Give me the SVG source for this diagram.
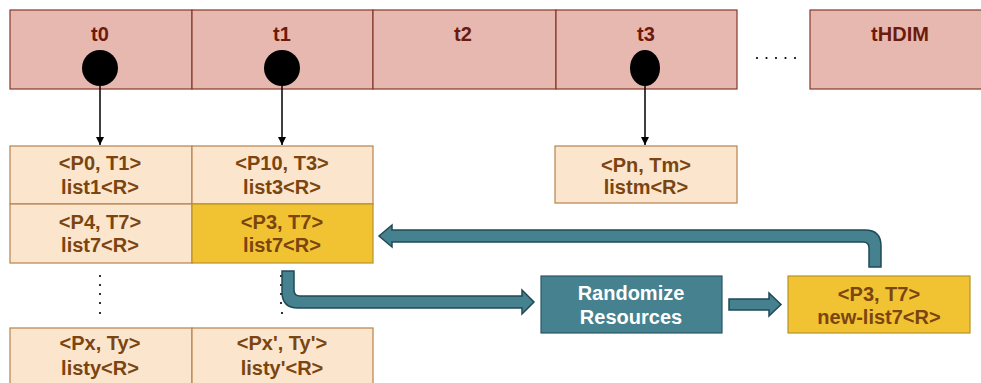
<svg xmlns="http://www.w3.org/2000/svg" width="981" height="383" viewBox="0 0 981 383">
  <defs>
    <style>
      .slot { fill: #e6b8af; stroke: #85372b; stroke-width: 1.2; }
      .slot-label { font-family: "Liberation Sans", Arial, sans-serif; font-weight: bold; font-size: 20px; fill: #6d1a0c; text-anchor: middle; }
      .cell { fill: #fce5cd; stroke: #b4834f; stroke-width: 1.2; }
      .cell-hot { fill: #f1c232; stroke: #b8912a; stroke-width: 1.2; }
      .cell-text { font-family: "Liberation Sans", Arial, sans-serif; font-weight: bold; font-size: 20px; fill: #7a4510; text-anchor: middle; }
      .proc { fill: #45818e; stroke: #2a5866; stroke-width: 1.2; }
      .proc-text { font-family: "Liberation Sans", Arial, sans-serif; font-weight: bold; font-size: 20px; fill: #ffffff; text-anchor: middle; }
      .pin { fill: #000000; }
      .ptr { stroke: #000000; stroke-width: 1.5; fill: none; }
      .flow { fill: #45818e; stroke: #1f4a57; stroke-width: 1.5; stroke-linejoin: miter; }
      .dot { fill: #000000; }
    </style>
    <marker id="ah" viewBox="0 0 10 10" refX="10" refY="5" markerWidth="8" markerHeight="8" markerUnits="userSpaceOnUse" orient="auto">
      <path d="M0,0 L10,5 L0,10 Z" fill="#000000"/>
    </marker>
  </defs>

  <!-- time slots -->
  <g id="slot-t0"><rect class="slot" x="10" y="10" width="182" height="79"/><text class="slot-label" x="100" y="41">t0</text><circle class="pin" cx="100" cy="68" r="18"/></g>
  <g id="slot-t1"><rect class="slot" x="192" y="10" width="181" height="79"/><text class="slot-label" x="282" y="41">t1</text><circle class="pin" cx="282" cy="68" r="18"/></g>
  <g id="slot-t2"><rect class="slot" x="373" y="10" width="183" height="79"/><text class="slot-label" x="463" y="41">t2</text></g>
  <g id="slot-t3"><rect class="slot" x="556" y="10" width="181" height="79"/><text class="slot-label" x="646" y="41">t3</text><ellipse class="pin" cx="645" cy="68" rx="15" ry="18"/></g>
  <g id="ellipsis-top">
    <circle class="dot" cx="757" cy="58" r="1.1"/><circle class="dot" cx="766.5" cy="58" r="1.1"/><circle class="dot" cx="776" cy="58" r="1.1"/><circle class="dot" cx="785.5" cy="58" r="1.1"/><circle class="dot" cx="795" cy="58" r="1.1"/>
  </g>
  <g id="slot-thdim"><rect class="slot" x="810" y="10" width="180" height="79"/><text class="slot-label" x="900" y="41">tHDIM</text></g>

  <!-- entry lists -->
  <g id="cell-p0"><rect class="cell" x="10" y="146" width="182" height="58"/><text class="cell-text" x="100" y="170">&lt;P0, T1&gt;</text><text class="cell-text" x="100" y="194">list1&lt;R&gt;</text></g>
  <g id="cell-p10"><rect class="cell" x="192" y="146" width="181" height="58"/><text class="cell-text" x="282" y="170">&lt;P10, T3&gt;</text><text class="cell-text" x="282" y="194">list3&lt;R&gt;</text></g>
  <g id="cell-p4"><rect class="cell" x="10" y="204" width="182" height="59"/><text class="cell-text" x="100" y="229">&lt;P4, T7&gt;</text><text class="cell-text" x="100" y="252">list7&lt;R&gt;</text></g>
  <g id="cell-p3"><rect class="cell-hot" x="192" y="204" width="181" height="59"/><text class="cell-text" x="282" y="229">&lt;P3, T7&gt;</text><text class="cell-text" x="282" y="252">list7&lt;R&gt;</text></g>
  <g id="cell-pn"><rect class="cell" x="555" y="146" width="182" height="57"/><text class="cell-text" x="646" y="172">&lt;Pn, Tm&gt;</text><text class="cell-text" x="646" y="194">listm&lt;R&gt;</text></g>
  <g id="ellipsis-col0">
    <circle class="dot" cx="100" cy="276" r="1.1"/><circle class="dot" cx="100" cy="285" r="1.1"/><circle class="dot" cx="100" cy="294" r="1.1"/><circle class="dot" cx="100" cy="303" r="1.1"/><circle class="dot" cx="100" cy="313" r="1.1"/>
  </g>
  <g id="ellipsis-col1">
    <circle class="dot" cx="281" cy="276" r="1.1"/><circle class="dot" cx="281" cy="285" r="1.1"/><circle class="dot" cx="281" cy="294" r="1.1"/><circle class="dot" cx="281" cy="303" r="1.1"/><circle class="dot" cx="282" cy="313" r="1.1"/>
  </g>
  <g id="cell-px"><rect class="cell" x="10" y="328" width="182" height="60"/><text class="cell-text" x="100" y="350">&lt;Px, Ty&gt;</text><text class="cell-text" x="100" y="375">listy&lt;R&gt;</text></g>
  <g id="cell-px2"><rect class="cell" x="192" y="328" width="181" height="60"/><text class="cell-text" x="282" y="350">&lt;Px', Ty'&gt;</text><text class="cell-text" x="282" y="375">listy'&lt;R&gt;</text></g>

  <!-- processing -->
  <g id="randomize"><rect class="proc" x="541" y="276" width="181" height="57"/><text class="proc-text" x="631" y="300">Randomize</text><text class="proc-text" x="631" y="324">Resources</text></g>
  <g id="new-list"><rect class="cell-hot" x="788" y="276" width="182" height="57"/><text class="cell-text" x="879" y="301">&lt;P3, T7&gt;</text><text class="cell-text" x="879" y="324">new-list7&lt;R&gt;</text></g>

  <!-- connectors -->
  <g id="connectors">
    <line class="ptr" x1="100" y1="86" x2="100" y2="145" marker-end="url(#ah)"/>
    <line class="ptr" x1="282" y1="86" x2="282" y2="145" marker-end="url(#ah)"/>
    <line class="ptr" x1="645" y1="86" x2="645" y2="145" marker-end="url(#ah)"/>
    <path class="flow" d="M282,271 L282,292 Q282,308 298,308 L522,308 L522,314 L534,302 L522,290 L522,296 L300,296 Q294,296 294,290 L294,271 Z"/>
    <path class="flow" d="M729,299 L769,299 L769,293 L781,304.5 L769,316 L769,310 L729,310 Z"/>
    <path class="flow" d="M869,267 L869,248 Q869,242 863,242 L392,242 L392,247 L379,236 L392,225 L392,230 L865,230 Q881,230 881,246 L881,267 Z"/>
  </g>
</svg>
